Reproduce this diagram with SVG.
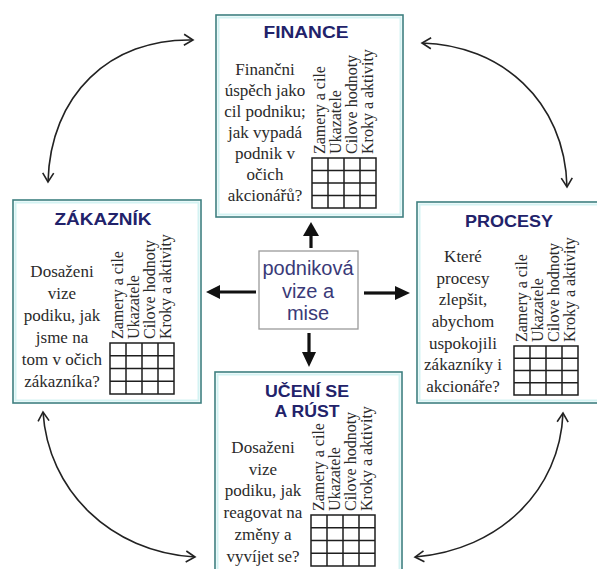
<svg xmlns="http://www.w3.org/2000/svg" width="597" height="569" viewBox="0 0 597 569">
<style>
.box{fill:#ffffff;stroke:#3f8081;stroke-width:1.6}
.inner{fill:none;stroke:#d4f3f3;stroke-width:2}
.title{font-family:"Liberation Sans",Arial,sans-serif;font-weight:bold;font-size:16.5px;fill:#22226a;text-anchor:middle}
.txt{font-family:"Liberation Serif","Times New Roman",serif;font-size:17px;fill:#2a2a2a;text-anchor:middle}
.hdr{font-family:"Liberation Serif","Times New Roman",serif;font-size:16px;fill:#2a2a2a}
.grid{fill:none;stroke:#1e1e1e;stroke-width:1.5}
.center{fill:#ffffff;stroke:#9a9a9a;stroke-width:1.3}
.ctext{font-family:"Liberation Sans",Arial,sans-serif;font-size:20px;fill:#3a3a78;text-anchor:middle}
.curve{fill:none;stroke:#222;stroke-width:1.6}
.shaft{stroke:#111;stroke-width:3.2;fill:none}
.head{fill:#111}
</style>
<defs>
<marker id="vee" markerUnits="userSpaceOnUse" markerWidth="14" markerHeight="14" viewBox="0 0 14 14" refX="11" refY="7" orient="auto-start-reverse">
<path d="M2,1.5 L11,7 L2,12.5" fill="none" stroke="#222" stroke-width="1.6"/>
</marker>
</defs>
<rect width="597" height="569" fill="#ffffff"/>

<g id="connectors">
<path class="curve" d="M193,40 C110,38 50,95 48,182" marker-start="url(#vee)" marker-end="url(#vee)"/>
<path class="curve" d="M422,43 C500,45 565,100 567,187" marker-start="url(#vee)" marker-end="url(#vee)"/>
<path class="curve" d="M43,412 C48,490 110,552 195,557" marker-start="url(#vee)" marker-end="url(#vee)"/>
<path class="curve" d="M563,413 C560,490 500,550 415,557" marker-start="url(#vee)" marker-end="url(#vee)"/>
<line class="shaft" x1="311" y1="248" x2="311" y2="234"/>
<polygon class="head" points="311,222 303,236 319,236"/>
<line class="shaft" x1="256" y1="292" x2="219" y2="292"/>
<polygon class="head" points="206,292 220,285 220,299"/>
<line class="shaft" x1="364" y1="293" x2="396" y2="293"/>
<polygon class="head" points="410,293 395,286 395,300"/>
<line class="shaft" x1="309" y1="333" x2="309" y2="354"/>
<polygon class="head" points="309,367 302,352 316,352"/>
</g>

<g id="finance">
<rect class="box" x="216" y="15" width="187" height="202"/>
<rect class="inner" x="218.5" y="17.5" width="182" height="197"/>
<text class="title" x="306" y="38" textLength="85" lengthAdjust="spacingAndGlyphs">FINANCE</text>
<text class="txt" x="265" y="75">Finančni</text>
<text class="txt" x="265" y="96">úspěch jako</text>
<text class="txt" x="265" y="117">cil podniku;</text>
<text class="txt" x="265" y="138">jak vypadá</text>
<text class="txt" x="265" y="159">podnik v</text>
<text class="txt" x="265" y="180">očich</text>
<text class="txt" x="265" y="201">akcionářů?</text>
<text class="hdr" transform="translate(325,154) rotate(-90)">Zamery a cile</text>
<text class="hdr" transform="translate(341,154) rotate(-90)">Ukazatele</text>
<text class="hdr" transform="translate(357,154) rotate(-90)">Cilove hodnoty</text>
<text class="hdr" transform="translate(373,154) rotate(-90)">Kroky a aktivity</text>
<path class="grid" d="M312,158 H376 V208 H312 Z M328,158 V208 M344,158 V208 M360,158 V208 M312,170.5 H376 M312,183 H376 M312,195.5 H376"/>
</g>

<g id="zakaznik">
<rect class="box" x="13" y="200" width="188" height="203"/>
<rect class="inner" x="15.5" y="202.5" width="183" height="198"/>
<text class="title" x="103" y="225" textLength="97" lengthAdjust="spacingAndGlyphs">ZÁKAZNÍK</text>
<text class="txt" x="62" y="277">Dosaženi</text>
<text class="txt" x="62" y="299">vize</text>
<text class="txt" x="62" y="321">podiku, jak</text>
<text class="txt" x="62" y="343">jsme na</text>
<text class="txt" x="62" y="365">tom v očich</text>
<text class="txt" x="62" y="387">zákazníka?</text>
<text class="hdr" transform="translate(123,339) rotate(-90)">Zamery a cile</text>
<text class="hdr" transform="translate(139,339) rotate(-90)">Ukazatele</text>
<text class="hdr" transform="translate(155,339) rotate(-90)">Cilove hodnoty</text>
<text class="hdr" transform="translate(171,339) rotate(-90)">Kroky a aktivity</text>
<path class="grid" d="M110,343 H174 V394 H110 Z M126,343 V394 M142,343 V394 M158,343 V394 M110,355.75 H174 M110,368.5 H174 M110,381.25 H174"/>
</g>

<g id="procesy">
<rect class="box" x="417" y="202" width="190" height="201"/>
<rect class="inner" x="419.5" y="204.5" width="185" height="196"/>
<text class="title" x="509" y="227" textLength="88" lengthAdjust="spacingAndGlyphs">PROCESY</text>
<text class="txt" x="463" y="262">Které</text>
<text class="txt" x="463" y="283.7">procesy</text>
<text class="txt" x="463" y="305.3">zlepšit,</text>
<text class="txt" x="463" y="327">abychom</text>
<text class="txt" x="463" y="348.7">uspokojili</text>
<text class="txt" x="463" y="370.3">zákazníky i</text>
<text class="txt" x="463" y="392">akcionáře?</text>
<text class="hdr" transform="translate(527,342) rotate(-90)">Zamery a cile</text>
<text class="hdr" transform="translate(543,342) rotate(-90)">Ukazatele</text>
<text class="hdr" transform="translate(559,342) rotate(-90)">Cilove hodnoty</text>
<text class="hdr" transform="translate(575,342) rotate(-90)">Kroky a aktivity</text>
<path class="grid" d="M514,346 H578 V395 H514 Z M530,346 V395 M546,346 V395 M562,346 V395 M514,358.25 H578 M514,370.5 H578 M514,382.75 H578"/>
</g>

<g id="uceni">
<rect class="box" x="215" y="372" width="187" height="210"/>
<rect class="inner" x="217.5" y="374.5" width="182" height="205"/>
<text class="title" x="307" y="397" textLength="84" lengthAdjust="spacingAndGlyphs" style="font-weight:600">UČENÍ SE</text>
<text class="title" x="307" y="417" textLength="65" lengthAdjust="spacingAndGlyphs" style="font-weight:600">A RÚST</text>
<text class="txt" x="263" y="453">Dosaženi</text>
<text class="txt" x="263" y="475">vize</text>
<text class="txt" x="263" y="496">podiku, jak</text>
<text class="txt" x="263" y="518">reagovat na</text>
<text class="txt" x="263" y="540">změny a</text>
<text class="txt" x="263" y="562">vyvíjet se?</text>
<text class="hdr" transform="translate(324,511) rotate(-90)">Zamery a cile</text>
<text class="hdr" transform="translate(340,511) rotate(-90)">Ukazatele</text>
<text class="hdr" transform="translate(356,511) rotate(-90)">Cilove hodnoty</text>
<text class="hdr" transform="translate(372,511) rotate(-90)">Kroky a aktivity</text>
<path class="grid" d="M311,515 H375 V566 H311 Z M327,515 V566 M343,515 V566 M359,515 V566 M311,527.75 H375 M311,540.5 H375 M311,553.25 H375"/>
</g>

<g id="vize">
<rect class="center" x="259" y="251" width="99" height="78"/>
<text class="ctext" x="308" y="275">podniková</text>
<text class="ctext" x="308" y="298">vize a</text>
<text class="ctext" x="308" y="320">mise</text>
</g>
</svg>
